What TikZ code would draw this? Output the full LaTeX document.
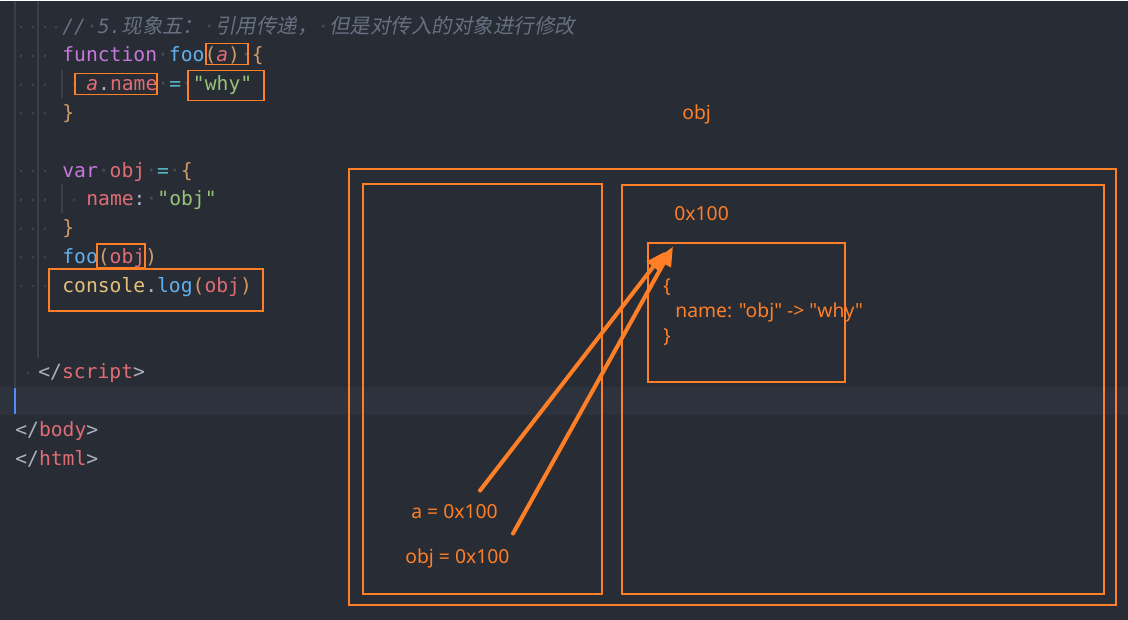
\documentclass[tikz,border=0pt]{standalone}
\usepackage{fontspec}
\setmonofont{DejaVu Sans Mono}
\newfontfamily\cjk[FakeSlant=0.2,Scale=1.04]{Noto Sans CJK SC}
\newfontfamily\diagfont{Noto Sans}
\usetikzlibrary{arrows.meta,fit}

\definecolor{bgc}{HTML}{282C34}
\definecolor{bandc}{HTML}{2E323C}
\definecolor{guidec}{HTML}{3B4048}
\definecolor{dotc}{HTML}{454B57}
\definecolor{cursorc}{HTML}{528BFF}
\definecolor{orng}{HTML}{FF7F27}
\definecolor{cmt}{HTML}{667080}
\definecolor{kw}{HTML}{C678DD}
\definecolor{fn}{HTML}{61AFEF}
\definecolor{var}{HTML}{E06C75}
\definecolor{str}{HTML}{98C379}
\definecolor{op}{HTML}{56B6C2}
\definecolor{brc}{HTML}{D19A66}
\definecolor{cons}{HTML}{E5C07B}
\definecolor{plain}{HTML}{ABB2BF}

\newcommand\spdot{\textcolor{dotc}{·}}

\begin{document}
\begin{tikzpicture}[x=0.02cm,y=-0.02cm]
            \tikzset{code/.style={anchor=base west,inner sep=0pt,font=\ttfamily\fontsize{11.2}{13}\selectfont,text=plain}};
            \tikzset{hlbox/.style={draw=orng,line width=1.1pt,inner sep=0pt}};
            \tikzset{label/.style={anchor=base west,inner sep=0pt,font=\diagfont\fontsize{11}{13}\selectfont,text=orng}};
            \tikzset{ptr/.style={orng,line width=2.3pt,line cap=round,-{Triangle[length=11pt,width=9pt]}}};

            \fill[bgc] (0,0) rectangle (1128,619);
            \fill[bandc] (0,386) rectangle (1128,414);
            \draw[guidec,line width=0.6pt] (15,0) -- (15,386);
            \draw[cursorc,line width=1.2pt] (15,387) -- (15,413);
            \draw[guidec,line width=0.6pt] (38,0) -- (38,357);
            \draw[guidec,line width=0.6pt] (62,69) -- (62,97);
            \draw[guidec,line width=0.6pt] (62,183) -- (62,212);

            \foreach \ly in {32.5,61.3,90.1,118.9,176.5,205.3,234.1,262.9,291.7}
              \foreach \dx in {21,33,45}
                \fill[dotc] (\dx,\ly-6) circle (0.7pt);
            \fill[dotc] (56,26.5) circle (0.7pt);
            \fill[dotc] (74,84.1) circle (0.7pt);
            \fill[dotc] (74,199.3) circle (0.7pt);
            \fill[dotc] (28,372) circle (0.7pt);

            \node[code] (l1) at (62,32.5) {\itshape\textcolor{cmt}{//\spdot5.{\cjk 现象五：}\spdot{\cjk 引用传递，}\spdot{\cjk 但是对传入的对象进行修改}}};
            \node[code] (l2) at (62,61.3) {\textcolor{kw}{function}\spdot\textcolor{fn}{foo}\textcolor{brc}{(}\textcolor{var}{\itshape a}\textcolor{brc}{)}\spdot\textcolor{brc}{\{}};
            \node[code] (l3) at (86,90.1) {\textcolor{var}{\itshape a}.\textcolor{var}{name}\spdot\textcolor{op}{=}\spdot\textcolor{str}{"why"}};
            \node[code] (l4) at (62,118.9) {\textcolor{brc}{\}}};
            \node[code] (l6) at (62,176.5) {\textcolor{kw}{var}\spdot\textcolor{var}{obj}\spdot\textcolor{op}{=}\spdot\textcolor{brc}{\{}};
            \node[code] (l7) at (86,205.3) {\textcolor{var}{name}:\spdot\textcolor{str}{"obj"}};
            \node[code] (l8) at (62,234.1) {\textcolor{brc}{\}}};
            \node[code] (l9) at (62,262.9) {\textcolor{fn}{foo}\textcolor{brc}{(}\textcolor{var}{obj}\textcolor{brc}{)}};
            \node[code] (l10) at (62,291.7) {\textcolor{cons}{console}.\textcolor{fn}{log}\textcolor{brc}{(}\textcolor{var}{obj}\textcolor{brc}{)}};
            \node[code] (l13) at (38,378) {</\textcolor{var}{script}>};
            \node[code] (l15) at (15,435.7) {</\textcolor{var}{body}>};
            \node[code] (l16) at (15,464.5) {</\textcolor{var}{html}>};

            \node[hlbox,fit={(206,43) (248,64)}] (parama) {};
            \node[hlbox,fit={(75,73) (157,94)}] (aname) {};
            \node[hlbox,fit={(188,70) (264,100)}] (why) {};
            \node[hlbox,fit={(97,243) (145,267)}] (argobj) {};
            \node[hlbox,fit={(49,268) (263,310)}] (logline) {};

            \node[hlbox,fit={(349,168) (1116,604)}] (mem) {};
            \node[hlbox,fit={(363,183) (602,593)}] (stack) {};
            \node[hlbox,fit={(622,184) (1104,593)}] (heap) {};
            \node[hlbox,fit={(648,242) (845,381)}] (objbox) {};

            \node[label] (objname) at (682,119) {obj};
            \node[label] (addr) at (674,220) {0x100};
            \node[label] (lbrace) at (663,292) {\{};
            \node[label] (field) at (675,317) {name: "obj" -> "why"};
            \node[label] (rbrace) at (663,342) {\}};
            \node[label] (avar) at (411,518) {a = 0x100};
            \node[label] (objvar) at (405,563) {obj = 0x100};

            \coordinate (afrom) at (480,490);
            \coordinate (ato) at (665,251);
            \coordinate (objfrom) at (513,533);
            \coordinate (objto) at (673,246);
            \draw[ptr] (afrom) -- (ato);
            \draw[ptr] (objfrom) -- (objto);
\end{tikzpicture}
\end{document}
